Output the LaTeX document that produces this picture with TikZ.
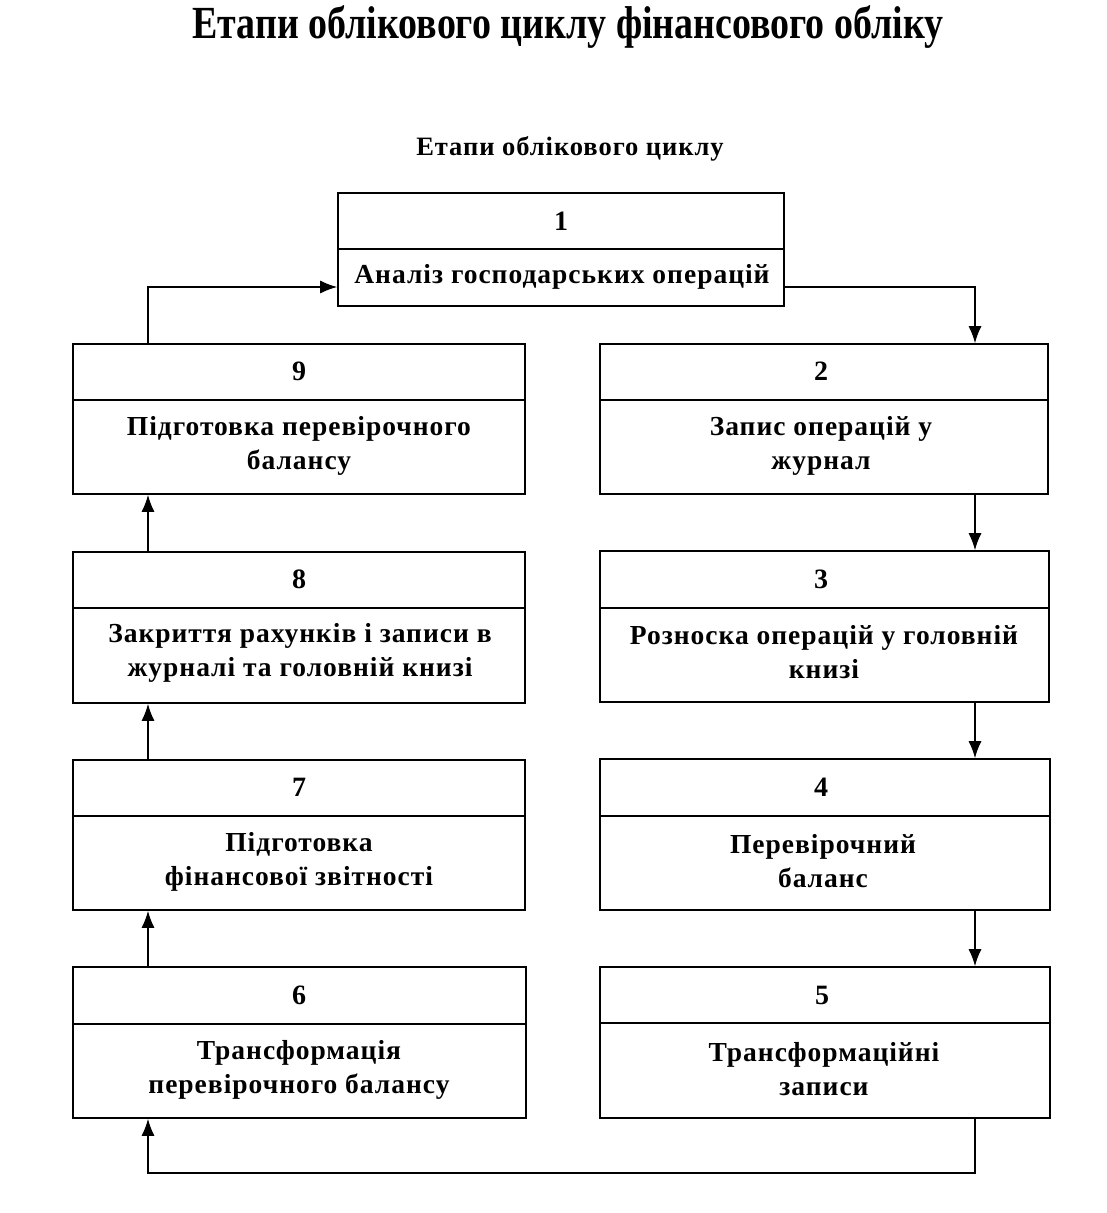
\documentclass[tikz,border=0pt]{standalone}
\usepackage{fontspec}
\setmainfont{Liberation Serif}
\usetikzlibrary{arrows.meta}
\newfontfamily\titlefont[FakeStretch=0.825]{Liberation Serif}
\newfontfamily\spacedfont[LetterSpace=3.6]{Liberation Serif}
\tikzset{
  stagebox/.style={draw, line width=1.6pt, inner sep=0pt},
  divline/.style={line width=1.3pt},
  numtext/.style={font=\bfseries\fontsize{28}{30}\selectfont, inner sep=0pt},
  bodytext/.style={font=\spacedfont\bfseries\fontsize{27.5}{34}\selectfont, align=center, inner sep=0pt},
  flow/.style={line width=1.4pt, -{Latex[length=17pt,width=13pt]}},
  link/.style={line width=1.4pt}
}
\begin{document}
\begin{tikzpicture}[x=1pt,y=-1pt]
\useasboundingbox (0,0) rectangle (1106,1213);
% titles
\node[font=\titlefont\bfseries\fontsize{46}{48}\selectfont, inner sep=0pt] (title) at (568,27) {Етапи облікового циклу фінансового обліку};
\node[font=\spacedfont\bfseries\fontsize{26.5}{28}\selectfont, inner sep=0pt] (subtitle) at (570,149) {Етапи облікового циклу};
% box 1
\node[stagebox, minimum width=446pt, minimum height=113pt] (b1) at (561,249.5) {};
\draw[divline] (b1.west |- 0,249) -- (b1.east |- 0,249);
\node[numtext] (n1) at (561,221) {1};
\node[bodytext] (t1) at (562,277) {Аналіз господарських операцій};
% left column
\node[stagebox, minimum width=452pt, minimum height=150pt] (b9) at (299,419) {};
\draw[divline] (b9.west |- 0,400) -- (b9.east |- 0,400);
\node[numtext] (n9) at (299,371) {9};
\node[bodytext] (t9) at (299,446) {Підготовка перевірочного\\балансу};
\node[stagebox, minimum width=452pt, minimum height=151pt] (b8) at (299,627.5) {};
\draw[divline] (b8.west |- 0,608) -- (b8.east |- 0,608);
\node[numtext] (n8) at (299,579) {8};
\node[bodytext] (t8) at (300,653) {Закриття рахунків і записи в\\журналі та головній книзі};
\node[stagebox, minimum width=452pt, minimum height=150pt] (b7) at (299,835) {};
\draw[divline] (b7.west |- 0,816) -- (b7.east |- 0,816);
\node[numtext] (n7) at (299,787) {7};
\node[bodytext] (t7) at (299,862) {Підготовка\\фінансової звітності};
\node[stagebox, minimum width=453pt, minimum height=151pt] (b6) at (299.5,1042.5) {};
\draw[divline] (b6.west |- 0,1024) -- (b6.east |- 0,1024);
\node[numtext] (n6) at (299,995) {6};
\node[bodytext] (t6) at (299,1070) {Трансформація\\перевірочного балансу};
% right column
\node[stagebox, minimum width=448pt, minimum height=150pt] (b2) at (824,419) {};
\draw[divline] (b2.west |- 0,400) -- (b2.east |- 0,400);
\node[numtext] (n2) at (821,371) {2};
\node[bodytext] (t2) at (821,446) {Запис операцій у\\журнал};
\node[stagebox, minimum width=449pt, minimum height=151pt] (b3) at (824.5,626.5) {};
\draw[divline] (b3.west |- 0,608) -- (b3.east |- 0,608);
\node[numtext] (n3) at (821,579) {3};
\node[bodytext] (t3) at (824,652) {Розноска операцій у головній\\книзі};
\node[stagebox, minimum width=450pt, minimum height=151pt] (b4) at (825,834.5) {};
\draw[divline] (b4.west |- 0,816) -- (b4.east |- 0,816);
\node[numtext] (n4) at (821,787) {4};
\node[bodytext] (t4) at (823,861) {Перевірочний\\баланс};
\node[stagebox, minimum width=450pt, minimum height=151pt] (b5) at (825,1042.5) {};
\draw[divline] (b5.west |- 0,1023) -- (b5.east |- 0,1023);
\node[numtext] (n5) at (822,995) {5};
\node[bodytext] (t5) at (824,1069) {Трансформаційні\\записи};
% connectors
\coordinate (cr) at (975,287);
\coordinate (cb) at (975,1173);
\coordinate (cl) at (148,1173);
\coordinate (ct) at (148,287);
\draw[flow] (b1.east |- cr) -- (cr) -- (cr |- b2.north);
\draw[flow] (cr |- b2.south) -- (cr |- b3.north);
\draw[flow] (cr |- b3.south) -- (cr |- b4.north);
\draw[flow] (cr |- b4.south) -- (cr |- b5.north);
\draw[flow] (cb |- b5.south) -- (cb) -- (cl) -- (cl |- b6.south);
\draw[flow] (cl |- b6.north) -- (cl |- b7.south);
\draw[flow] (cl |- b7.north) -- (cl |- b8.south);
\draw[flow] (cl |- b8.north) -- (cl |- b9.south);
\draw[flow] (ct |- b9.north) -- (ct) -- (b1.west |- ct);
\end{tikzpicture}
\end{document}
